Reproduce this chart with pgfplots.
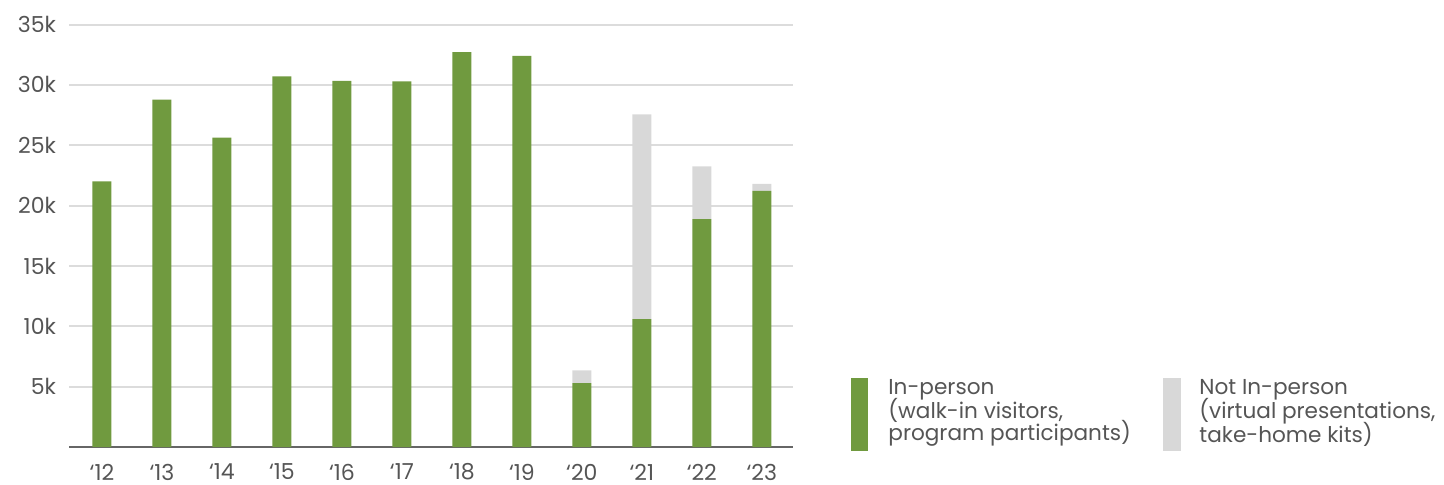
\documentclass[border=0pt]{standalone}
\usepackage{pgfplots}
\pgfplotsset{compat=1.18}
\usepackage{fontspec}
\setmainfont{Poppins}
\definecolor{barg}{HTML}{709A3F}
\definecolor{barl}{HTML}{D8D8D8}
\definecolor{gridc}{HTML}{DCDCDC}
\definecolor{txt}{HTML}{555555}
\begin{document}
\begin{tikzpicture}[font=\fontsize{10.8pt}{11.5pt}\selectfont, text=txt]
\useasboundingbox (-34.5pt,-18.5pt) rectangle (687.5pt,223.5pt);
\begin{axis}[
  at={(0pt,0pt)}, anchor=south west,
  scale only axis, width=362pt, height=211.25pt,
  ybar stacked, bar width=9.5pt,
  xmin=-0.55, xmax=11.52, ymin=0, ymax=35000,
  xtick={0,...,11},
  xticklabels={‘12,‘13,‘14,‘15,‘16,‘17,‘18,‘19,‘20,‘21,‘22,‘23},
  ytick={5000,10000,15000,20000,25000,30000,35000},
  yticklabels={5k,10k,15k,20k,25k,30k,35k},
  scaled y ticks=false,
  major tick length=0pt,
  ymajorgrids, grid style={gridc, line width=1pt},
  axis x line*=bottom, axis y line*=left,
  y axis line style={draw=none},
  x axis line style={draw=black!60, line width=1.1pt, -},
  tick label style={font=\fontsize{11pt}{13pt}\selectfont},
  xticklabel style={inner ysep=1pt, yshift=-7.2pt, text=txt},
  yticklabel style={xshift=-3pt, text=txt},
  every axis plot/.append style={draw=none},
  clip=false,
]
\addplot[fill=barg] coordinates {(0,22000) (1,28770) (2,25620) (3,30700) (4,30340) (5,30280) (6,32710) (7,32410) (8,5300) (9,10590) (10,18870) (11,21210)};
\addplot[fill=barl] coordinates {(0,0) (1,0) (2,0) (3,0) (4,0) (5,0) (6,0) (7,0) (8,1050) (9,16960) (10,4380) (11,580)};
\end{axis}
\fill[barg] (391pt,-2pt) rectangle (399.5pt,34.5pt);
\node[anchor=north west, align=left, inner sep=0pt] at (409.5pt,34pt) {In-person\\[-2pt](walk-in visitors,\\[-2pt]program participants)};
\fill[barl] (547pt,-2pt) rectangle (556pt,34.5pt);
\node[anchor=north west, align=left, inner sep=0pt] at (565pt,34pt) {Not In-person\\[-2pt](virtual presentations,\\[-2pt]take-home kits)};
\end{tikzpicture}
\end{document}
